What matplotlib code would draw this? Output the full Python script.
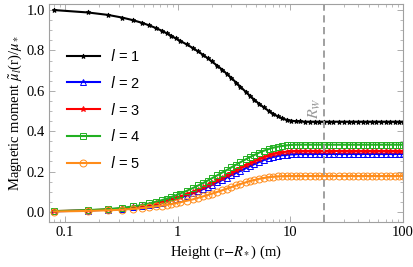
import numpy as np
import matplotlib
matplotlib.use("Agg")
import matplotlib.pyplot as plt
from matplotlib.font_manager import FontProperties
from matplotlib.ticker import MultipleLocator, FixedLocator, NullFormatter

# heights (m) at which the curves are sampled
height = [0.08, 0.16, 0.24, 0.32, 0.40, 0.48, 0.56, 0.64, 0.72, 0.80,
          0.88, 0.96, 1.04, 1.2, 1.36, 1.52, 1.68, 1.84, 2.0, 2.24,
          2.48, 2.72, 3.0, 3.3, 3.6, 4.0, 4.4, 4.8, 5.3, 5.8,
          6.4, 7.0, 7.7, 8.5, 9.3, 10.2, 11.2, 12.3, 13.5, 15,
          16.5, 18, 20, 22, 24, 27, 30, 33, 36, 40,
          44, 48, 53, 58, 64, 70, 77, 85, 93, 100]

mu_l1 = [1.000, 0.988, 0.976, 0.963, 0.950, 0.937, 0.924, 0.911, 0.898, 0.885,
         0.872, 0.860, 0.849, 0.830, 0.812, 0.795, 0.778, 0.762, 0.746, 0.725,
         0.705, 0.685, 0.663, 0.641, 0.620, 0.596, 0.574, 0.555, 0.535, 0.518,
         0.501, 0.487, 0.474, 0.463, 0.456, 0.452, 0.449, 0.448, 0.447, 0.447,
         0.447, 0.447, 0.447, 0.447, 0.447, 0.447, 0.447, 0.447, 0.447, 0.447,
         0.447, 0.447, 0.447, 0.447, 0.447, 0.447, 0.447, 0.447, 0.447, 0.447]

mu_l2 = [0.003, 0.007, 0.011, 0.016, 0.022, 0.028, 0.034, 0.040, 0.046, 0.052,
         0.058, 0.064, 0.070, 0.081, 0.092, 0.103, 0.113, 0.123, 0.133, 0.146,
         0.158, 0.170, 0.182, 0.193, 0.203, 0.216, 0.227, 0.237, 0.248, 0.257,
         0.265, 0.272, 0.277, 0.281, 0.283, 0.285, 0.286, 0.287, 0.287, 0.287,
         0.287, 0.287, 0.287, 0.287, 0.287, 0.287, 0.287, 0.287, 0.287, 0.287,
         0.287, 0.287, 0.287, 0.287, 0.287, 0.287, 0.287, 0.287, 0.287, 0.287]

mu_l3 = [0.004, 0.008, 0.012, 0.017, 0.023, 0.029, 0.036, 0.042, 0.049, 0.056,
         0.062, 0.069, 0.076, 0.088, 0.100, 0.111, 0.122, 0.133, 0.143, 0.157,
         0.170, 0.182, 0.195, 0.207, 0.218, 0.231, 0.242, 0.252, 0.263, 0.272,
         0.280, 0.287, 0.292, 0.296, 0.299, 0.301, 0.302, 0.302, 0.302, 0.302,
         0.302, 0.302, 0.302, 0.302, 0.302, 0.302, 0.302, 0.302, 0.302, 0.302,
         0.302, 0.302, 0.302, 0.302, 0.302, 0.302, 0.302, 0.302, 0.302, 0.302]

mu_l4 = [0.004, 0.009, 0.014, 0.020, 0.027, 0.034, 0.042, 0.050, 0.058, 0.066,
         0.074, 0.082, 0.090, 0.104, 0.118, 0.131, 0.143, 0.155, 0.166, 0.181,
         0.195, 0.207, 0.221, 0.234, 0.246, 0.260, 0.272, 0.282, 0.294, 0.303,
         0.311, 0.318, 0.323, 0.327, 0.330, 0.332, 0.333, 0.333, 0.333, 0.333,
         0.333, 0.333, 0.333, 0.333, 0.333, 0.333, 0.333, 0.333, 0.333, 0.333,
         0.333, 0.333, 0.333, 0.333, 0.333, 0.333, 0.333, 0.333, 0.333, 0.333]

mu_l5 = [0.002, 0.005, 0.008, 0.011, 0.015, 0.019, 0.023, 0.027, 0.031, 0.035,
         0.039, 0.043, 0.047, 0.055, 0.062, 0.070, 0.077, 0.083, 0.090, 0.099,
         0.107, 0.115, 0.123, 0.131, 0.138, 0.146, 0.153, 0.158, 0.164, 0.168,
         0.172, 0.174, 0.176, 0.177, 0.178, 0.178, 0.178, 0.178, 0.178, 0.178,
         0.178, 0.178, 0.178, 0.178, 0.178, 0.178, 0.178, 0.178, 0.178, 0.178,
         0.178, 0.178, 0.178, 0.178, 0.178, 0.178, 0.178, 0.178, 0.178, 0.178]

R_w = 20

plt.rcParams['font.family'] = 'Liberation Serif'
plt.rcParams['mathtext.fontset'] = 'stix'

fig = plt.figure(figsize=(4.13, 2.67), dpi=100)
ax = fig.add_axes([0.1186, 0.1685, 0.8572, 0.8165])

series = [
    (mu_l1, 'black', '*', 3.5, 'black', '1'),
    (mu_l2, '#0000ff', '^', 4, 'none', '2'),
    (mu_l3, '#ff0000', '*', 4, 'none', '3'),
    (mu_l4, '#22b022', 's', 4, 'none', '4'),
    (mu_l5, '#ff8c1a', 'o', 5, 'none', '5'),
]
for ys, col, mk, ms, mfc, lab in series:
    ax.plot(height, ys, color=col, lw=1.5, marker=mk, ms=ms, mfc=mfc,
            mec=col, mew=0.7, label=r'$l$ = ' + lab)

ax.axvline(R_w, color='#999999', ls=(0, (4, 2.5)), lw=1.3)
ax.text(R_w * 0.97, 0.46, r'$R_W$', rotation=90, color='#999999',
        ha='right', va='bottom', fontsize=11.5)

ax.set_xscale('log')
ax.set_xlim(0.072, 100)
ax.set_ylim(-0.05, 1.03)
ax.set_xticks([0.1, 1, 10, 100])
ax.set_xticklabels(['0.1', '1', '10', '100'])
ax.set_yticks([0.0, 0.2, 0.4, 0.6, 0.8, 1.0])
ax.set_yticklabels(['0.0', '0.2', '0.4', '0.6', '0.8', '1.0'])
ax.yaxis.set_minor_locator(MultipleLocator(0.05))
minor_x = [m * 10.0 ** e for e in range(-2, 2) for m in range(2, 10)]
ax.xaxis.set_minor_locator(FixedLocator(minor_x))
ax.xaxis.set_minor_formatter(NullFormatter())

for s in ax.spines.values():
    s.set_color('#a0a0a0')
    s.set_linewidth(0.8)
ax.tick_params(which='both', direction='in', top=True, right=True,
               color='#a0a0a0', labelsize=10.5, pad=3)
ax.tick_params(which='major', length=4, width=0.6)
ax.tick_params(which='minor', length=2, width=0.5)

ax.set_xlabel(r'Height (r$-R_*$) (m)', fontsize=10.5, labelpad=3)
ax.set_ylabel(r'Magnetic moment $\tilde{\mu}_l$(r)/$\mu_*$', fontsize=10.5,
              labelpad=2)

leg_font = FontProperties(family='Liberation Sans', size=10.5,
                          math_fontfamily='dejavusans')
ax.legend(loc='upper left', bbox_to_anchor=(0.015, 0.86), frameon=False,
          prop=leg_font, handlelength=2.2, labelspacing=0.75,
          handletextpad=0.7)

fig.savefig('out.png', dpi=100)
